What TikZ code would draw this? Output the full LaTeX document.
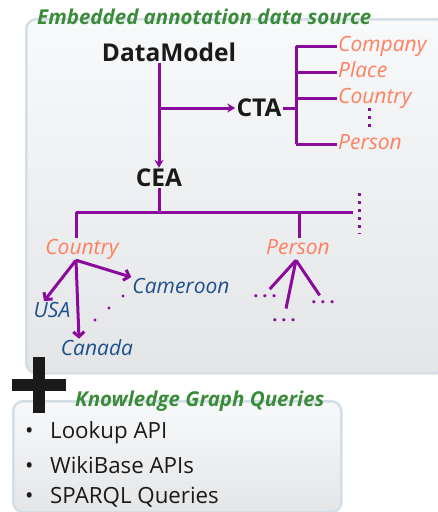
\documentclass[tikz,border=0pt]{standalone}
\usepackage{fontspec}
\setmainfont{Open Sans}
\usepackage{xcolor}
\usetikzlibrary{arrows.meta,positioning}
\definecolor{branch}{HTML}{8A0A9B}
\definecolor{typeorange}{HTML}{FF7F5E}
\definecolor{entityblue}{HTML}{1E4F8E}
\definecolor{headgreen}{HTML}{3A8C3A}
\definecolor{panelline}{HTML}{D3DEE6}
\definecolor{paneltop}{HTML}{F8F9FA}
\definecolor{panelbottom}{HTML}{E3E5E7}
\definecolor{inkblack}{HTML}{1A1A1A}
\newcommand{\spreaddots}{.\hspace{4pt}.\hspace{4pt}.}
\tikzset{
  panel/.style={draw=panelline, line width=2.5pt, rounded corners=10pt, top color=paneltop, bottom color=panelbottom, anchor=north west, inner sep=0pt},
  heading/.style={text=headgreen, font=\fontsize{20.5}{23}\selectfont\bfseries\itshape, anchor=west, inner sep=0pt},
  task/.style={font=\fontsize{24.5}{27}\selectfont\bfseries, text=inkblack, inner sep=1pt},
  type/.style={text=typeorange, font=\fontsize{21}{24}\selectfont\itshape, inner sep=1pt, text height=15pt, text depth=5pt},
  entity/.style={text=entityblue, font=\fontsize{21}{24}\selectfont\itshape, inner sep=1pt},
  ellip/.style={text=branch, font=\fontsize{18}{20}\selectfont\bfseries, inner sep=0pt},
  item/.style={font=\fontsize{22.3}{25}\selectfont, text=inkblack, anchor=west, inner sep=0pt},
  link/.style={draw=branch, line width=3pt},
  arrow/.style={link, -{Stealth[length=8pt,width=9pt]}},
  barb/.style={link, -{Straight Barb[length=5pt,width=11pt]}},
  dots/.style={draw=branch, line width=3pt, dash pattern=on 3pt off 5pt},
  plusbar/.style={draw=inkblack, line width=12pt}
}
\begin{document}
\begin{tikzpicture}[x=1pt,y=-1pt]
  \useasboundingbox (0,0) rectangle (437,512);

  % annotation source panel
  \node[panel, minimum width=420pt, minimum height=354pt] (srcbox) at (25,18) {};
  \node[heading] (srctitle) at (37,17) {Embedded annotation data source};

  \node[task] (model) at (169,52) {DataModel};
  \node[task] (cta) at (259,108) {CTA};
  \node[task] (cea) at (159,178) {CEA};

  \coordinate (split) at (cea |- cta);
  \draw[arrow] (model.south -| cea) -- (cea.north);
  \draw[arrow] (split) -- (cta.west);

  % column types
  \node[type, anchor=west] (company) at (337,46) {Company};
  \node[type, anchor=west] (place) at (337,72) {Place};
  \node[type, anchor=west] (country) at (337,98) {Country};
  \node[type, anchor=west] (person) at (337,144) {Person};

  \coordinate (fork) at (296,108);
  \draw[link] (cta.east) -- (fork);
  \draw[link] (fork |- company.west) -- (fork |- person.west);
  \foreach \t in {company,place,country,person}
    \draw[link] (fork |- \t.west) -- (\t.west);
  \draw[dots] (369,108) -- (369,130);

  % cell entities
  \node[type] (cecountry) at (82,249) {Country};
  \node[type] (ceperson) at (298,249) {Person};

  \coordinate (hub) at (cea |- 0,212);
  \coordinate (lbranch) at (76,212);
  \coordinate (rbranch) at (299,212);
  \draw[link] (cea.south) -- (hub);
  \draw[link] (lbranch) -- (353,212);
  \draw[link] (lbranch) -- (lbranch |- cecountry.north);
  \draw[link] (rbranch) -- (rbranch |- ceperson.north);
  \draw[dots] (359,193) -- (359,234);

  \node[entity] (usa) at (52,310) {USA};
  \node[entity] (canada) at (97,348) {Canada};
  \node[entity] (cameroon) at (181,286) {Cameroon};

  \coordinate (cfoot) at ([xshift=-6pt]cecountry.south);
  \draw[barb] (cfoot) -- ([xshift=-8pt]usa.north);
  \draw[barb] (cfoot) -- ([xshift=-18pt]canada.north);
  \draw[barb] (cfoot) -- (cameroon.north west);
  \foreach \p in {(95,320),(109,308),(123,296)}
    \fill[branch] \p circle (1.6pt);

  \node[ellip] (pleft) at (265,296) {\spreaddots};
  \node[ellip] (pmid) at (284,320) {\spreaddots};
  \node[ellip] (pright) at (323,302) {\spreaddots};
  \draw[link, shorten >=7pt] ([xshift=-2pt]ceperson.south) -- (pleft.north);
  \draw[link, shorten >=10pt] ([xshift=-2pt]ceperson.south) -- (pmid.north);
  \draw[link, shorten >=6pt] ([xshift=-2pt]ceperson.south) -- (pright.north);

  % knowledge graph panel
  \node[panel, minimum width=328pt, minimum height=111pt] (kgbox) at (12,400) {};
  \draw[plusbar] (39,357) -- (39,413);
  \draw[plusbar] (12,385) -- (66,385);
  \node[heading] (kgtitle) at (75,401) {Knowledge Graph Queries};

  \node[item] (lookup) at (25,433) {\makebox[25pt][l]{\textbullet}Lookup API};
  \node[item] (wikibase) at (25,465) {\makebox[25pt][l]{\textbullet}WikiBase APIs};
  \node[item] (sparql) at (25,497) {\makebox[25pt][l]{\textbullet}SPARQL Queries};
\end{tikzpicture}
\end{document}
